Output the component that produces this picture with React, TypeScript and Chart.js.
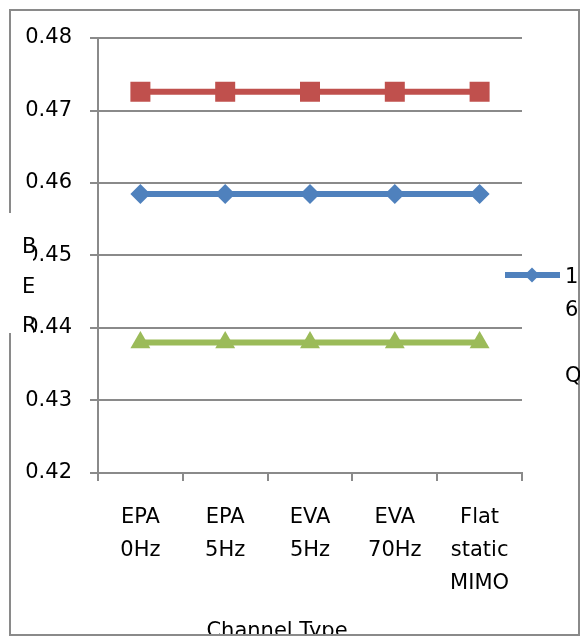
import { useEffect, useRef } from "react";
import { Chart, registerables } from "chart.js";

Chart.register(...registerables);

// ---- data ----
const categories: string[][] = [
  ["EPA", "0Hz"],
  ["EPA", "5Hz"],
  ["EVA", "5Hz"],
  ["EVA", "70Hz"],
  ["Flat", "static", "MIMO"],
];
const seriesNames = ["16 QAM", "64 QAM", "QPSK"];
const qam16Values = [0.4585, 0.4585, 0.4585, 0.4585, 0.4585];
const qam64Values = [0.4726, 0.4726, 0.4726, 0.4726, 0.4726];
const qpskValues = [0.438, 0.438, 0.438, 0.438, 0.438];
const yMin = 0.42;
const yMax = 0.48;
const yStep = 0.01;
const yTitle = "BER";
const xTitle = "Channel Type";

// ---- styles ----
const FONT_FAMILY = "'DejaVu Sans', sans-serif";
const FONT_SIZE = 21;
const GRID = "#8a8a8a";
const BLUE = "#4F81BD";
const RED = "#C0504D";
const GREEN = "#9BBB59";

const overlayPlugin = {
  id: "overlay",
  afterDraw(chart: any) {
    const ctx = chart.ctx as CanvasRenderingContext2D;
    ctx.save();
    ctx.font = `${FONT_SIZE}px ${FONT_FAMILY}`;
    ctx.fillStyle = "#000";
    ctx.textBaseline = "alphabetic";

    // x axis title
    ctx.textAlign = "center";
    ctx.fillText(xTitle, 277, 637);

    // outer border
    ctx.strokeStyle = GRID;
    ctx.lineWidth = 2;
    ctx.strokeRect(10, 10, 569, 625);

    // y axis title box (white) with stacked letters
    ctx.fillStyle = "#fff";
    ctx.fillRect(8, 213, 25, 120);
    ctx.fillStyle = "#000";
    ctx.textAlign = "left";
    const yLetters = yTitle.split("");
    const yBase = [253, 293, 332];
    yLetters.forEach((ch, i) => ctx.fillText(ch, 22, yBase[i]));

    // legend (clipped)
    ctx.beginPath();
    ctx.rect(495, 255, 85, 135);
    ctx.clip();
    const ds = chart.data.datasets[0];
    ctx.strokeStyle = ds.borderColor;
    ctx.lineWidth = 6;
    ctx.beginPath();
    ctx.moveTo(505, 275);
    ctx.lineTo(560, 275);
    ctx.stroke();
    ctx.fillStyle = ds.borderColor;
    ctx.beginPath();
    const r = 7.5;
    ctx.moveTo(532 - r, 275);
    ctx.lineTo(532, 275 - r);
    ctx.lineTo(532 + r, 275);
    ctx.lineTo(532, 275 + r);
    ctx.closePath();
    ctx.fill();
    ctx.fillStyle = "#000";
    ctx.textAlign = "left";
    String(ds.label)
      .split("")
      .forEach((ch, i) => ctx.fillText(ch, 565, 283 + i * 33));
    ctx.restore();
  },
};

export default function App() {
  const canvasRef = useRef<HTMLCanvasElement | null>(null);

  useEffect(() => {
    document.body.style.margin = "0";
    const canvas = canvasRef.current;
    if (!canvas) return;
    const font = { family: FONT_FAMILY, size: FONT_SIZE };
    const chart = new Chart(canvas, {
      type: "line",
      data: {
        labels: categories,
        datasets: [
          {
            label: seriesNames[0],
            data: qam16Values,
            borderColor: BLUE,
            backgroundColor: BLUE,
            borderWidth: 6,
            pointStyle: "rectRot",
            pointRadius: 10,
            pointBorderWidth: 0,
            tension: 0,
          },
          {
            label: seriesNames[1],
            data: qam64Values,
            borderColor: RED,
            backgroundColor: RED,
            borderWidth: 6,
            pointStyle: "rect",
            pointRadius: 14.14,
            pointBorderWidth: 0,
            tension: 0,
          },
          {
            label: seriesNames[2],
            data: qpskValues,
            borderColor: GREEN,
            backgroundColor: GREEN,
            borderWidth: 6,
            pointStyle: "triangle",
            pointRadius: 11.5,
            pointBorderWidth: 0,
            tension: 0,
          },
        ],
      },
      options: {
        responsive: false,
        animation: false,
        devicePixelRatio: 1,
        layout: { padding: { left: 0, top: 38, right: 58, bottom: 0 } },
        plugins: {
          legend: { display: false },
          tooltip: { enabled: false },
        },
        scales: {
          x: {
            type: "category",
            offset: true,
            grid: {
              offset: true,
              drawOnChartArea: false,
              drawTicks: true,
              tickLength: 8,
              color: GRID,
              lineWidth: 2,
            },
            border: { display: true, color: GRID, width: 2 },
            ticks: {
              autoSkip: false,
              maxRotation: 0,
              minRotation: 0,
              padding: 20,
              color: "#000",
              font: { ...font, lineHeight: 33 / FONT_SIZE },
            },
            afterFit(scale: any) {
              scale.height = 163;
            },
          },
          y: {
            min: yMin,
            max: yMax,
            grid: {
              color: GRID,
              lineWidth: 2,
              tickLength: 8,
              drawTicks: true,
            },
            border: { display: true, color: GRID, width: 2 },
            ticks: {
              stepSize: yStep,
              padding: 18,
              color: "#000",
              font,
              callback: (v: any) => Number(v).toFixed(2),
            },
            afterFit(scale: any) {
              scale.width = 98;
            },
          },
        },
      },
      plugins: [overlayPlugin],
    } as any);
    return () => chart.destroy();
  }, []);

  return (
    <div style={{ width: 580, height: 636 }}>
      <canvas ref={canvasRef} width={580} height={636} style={{ display: "block" }} />
    </div>
  );
}
